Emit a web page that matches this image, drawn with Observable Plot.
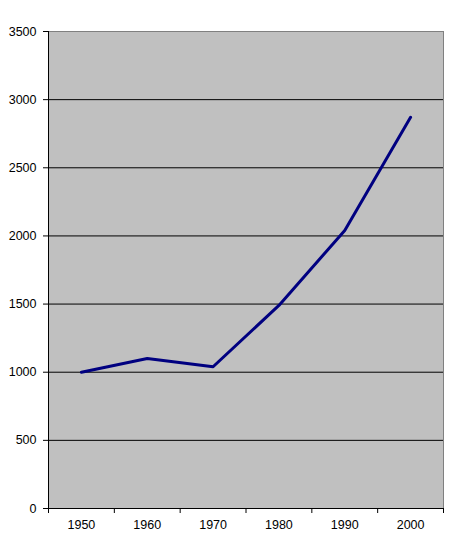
<!DOCTYPE html>
<html>
<head>
<meta charset="utf-8">
<script src="https://cdn.jsdelivr.net/npm/d3@7"></script>
<script src="https://cdn.jsdelivr.net/npm/@observablehq/plot@0.6"></script>
<style>
  html, body { margin: 0; padding: 0; background: white; }
</style>
</head>
<body>
<div id="chart"></div>
<script>
const years = [1950, 1960, 1970, 1980, 1990, 2000];
const values = [1000, 1100, 1040, 1490, 2040, 2870];
const yTicks = [0, 500, 1000, 1500, 2000, 2500, 3000, 3500];
const xBounds = [1945, 1955, 1965, 1975, 1985, 1995, 2005];

const data = years.map((yr, i) => ({year: yr, value: values[i]}));

const chart = Plot.plot({
  width: 453,
  height: 545,
  marginLeft: 48,
  marginTop: 31,
  marginRight: 10,
  marginBottom: 37,
  style: {background: "white", fontFamily: "'Liberation Sans', Arial, sans-serif", fontSize: "12.5px", color: "black"},
  x: {domain: [xBounds[0], xBounds[xBounds.length - 1]]},
  y: {domain: [yTicks[0], yTicks[yTicks.length - 1]]},
  marks: [
    Plot.frame({fill: "#c0c0c0", stroke: "#808080"}),
    Plot.ruleY(yTicks.slice(1, -1), {stroke: "black"}),
    Plot.ruleY([yTicks[0]], {stroke: "black"}),
    Plot.ruleX([xBounds[0]], {stroke: "black"}),
    Plot.line(data, {x: "year", y: "value", stroke: "#000080", strokeWidth: 3}),
    Plot.axisY({ticks: yTicks, tickSize: 5, tickPadding: 7, label: null, tickFormat: d => String(d)}),
    Plot.axisX({ticks: xBounds, tickSize: 5, tickFormat: () => "", label: null}),
    Plot.axisX({ticks: years, tickSize: 0, tickPadding: 12, tickFormat: d => String(d), label: null})
  ]
});
document.getElementById("chart").appendChild(chart);
</script>
</body>
</html>
